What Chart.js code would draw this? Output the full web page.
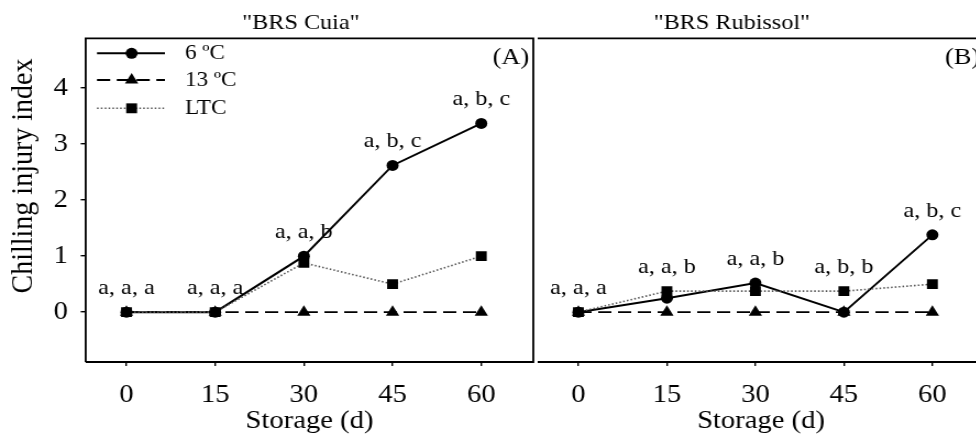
<!DOCTYPE html>
<html>
<head>
<meta charset="utf-8">
<script src="https://cdn.jsdelivr.net/npm/chart.js@4.4.0/dist/chart.umd.min.js"></script>
<style>
  html, body { margin: 0; padding: 0; background: #fff; overflow: hidden; }
  #wrap { position: relative; width: 976px; height: 443px; overflow: hidden; }
  canvas { position: absolute; top: 0; }
</style>
</head>
<body>
<div id="wrap">
  <canvas id="chartA" width="492" height="443" style="left:0px;width:541.2px;height:443px"></canvas>
  <canvas id="chartB" width="420" height="443" style="left:530px;width:462px;height:443px"></canvas>
</div>
<script>
// storage time (days) and y ticks
var days = [0, 15, 30, 45, 60];
var yTicks = [0, 1, 2, 3, 4];

// "BRS Cuia"
var cuia6 = [0, 0, 1.0, 2.62, 3.37];
var cuia13 = [0, 0, 0, 0, 0];
var cuiaLTC = [0, 0, 0.88, 0.5, 1.0];
var cuiaLetters = ['a, a, a', 'a, a, a', 'a, a, b', 'a, b, c', 'a, b, c'];

// "BRS Rubissol"
var rubi6 = [0, 0.25, 0.52, 0, 1.38];
var rubi13 = [0, 0, 0, 0, 0];
var rubiLTC = [0, 0.375, 0.375, 0.375, 0.5];
var rubiLetters = ['a, a, a', 'a, a, b', 'a, a, b', 'a, b, b', 'a, b, c'];

var SX = 1.1; // canvases are stretched a bit horizontally, like the figure
var serif = "'Liberation Serif', 'Times New Roman', serif";

function pts(vals) {
  return days.map(function (d, i) { return { x: d, y: vals[i] }; });
}

function lines(v6, v13, vLTC) {
  return [
    {
      label: '6 ºC', data: pts(v6), order: 1,
      borderColor: '#000', backgroundColor: '#000', borderWidth: 2,
      pointStyle: 'circle', pointRadius: 5.5, pointBorderWidth: 0
    },
    {
      label: '13 ºC', data: pts(v13), order: 2,
      borderColor: '#000', backgroundColor: '#000', borderWidth: 1.8, borderDash: [12, 6],
      pointStyle: 'triangle', pointRadius: 7, pointBorderWidth: 0
    },
    {
      label: 'LTC', data: pts(vLTC), order: 0,
      borderColor: '#555', backgroundColor: '#000', borderWidth: 1.6, borderDash: [1.5, 2],
      pointStyle: 'rect', pointRadius: 7, pointBorderWidth: 0
    }
  ];
}

function marker(ctx, style, x, y) {
  ctx.beginPath();
  if (style == 'circle') {
    ctx.arc(x, y, 5.5, 0, Math.PI * 2);
  } else if (style == 'triangle') {
    ctx.moveTo(x, y - 7);
    ctx.lineTo(x + 6.06, y + 3.5);
    ctx.lineTo(x - 6.06, y + 3.5);
    ctx.closePath();
  } else {
    ctx.rect(x - 4.95, y - 4.95, 9.9, 9.9);
  }
  ctx.fill();
}

function makeDecor(panel) {
  return {
    id: 'decor',
    afterDraw: function (chart) {
      var ctx = chart.ctx, a = chart.chartArea;
      var xs = chart.scales.x, ys = chart.scales.y;
      ctx.save();
      // frame; panel B shares its left edge with the right edge of panel A
      ctx.strokeStyle = '#000';
      ctx.lineWidth = 1.8;
      ctx.beginPath();
      if (panel.leftEdge) {
        ctx.moveTo(a.left, a.bottom);
        ctx.lineTo(a.left, a.top);
      } else {
        ctx.moveTo(a.left, a.top);
      }
      ctx.lineTo(a.right, a.top);
      ctx.lineTo(a.right, a.bottom);
      ctx.lineTo(a.left, a.bottom);
      ctx.stroke();
      ctx.fillStyle = '#000';

      ctx.font = '22px ' + serif;
      ctx.textAlign = 'center';
      ctx.textBaseline = 'alphabetic';
      ctx.fillText(panel.title, xs.getPixelForValue(panel.titleAt), 29);

      ctx.font = '24px ' + serif;
      ctx.textAlign = 'right';
      ctx.textBaseline = 'middle';
      ctx.fillText(panel.letter, a.right - 4 / SX, 58);

      ctx.font = '22px ' + serif;
      ctx.textAlign = 'center';
      panel.letters.forEach(function (t, i) {
        var top = Math.max(panel.v6[i], panel.v13[i], panel.vLTC[i]);
        ctx.fillText(t, xs.getPixelForValue(days[i]), ys.getPixelForValue(top) - 24);
      });

      if (panel.legend) {
        var rows = [53.3, 80, 108.3];
        chart.data.datasets.forEach(function (ds, i) {
          var y = rows[i];
          ctx.save();
          ctx.strokeStyle = ds.borderColor;
          ctx.lineWidth = ds.borderWidth;
          ctx.setLineDash(ds.borderDash || []);
          ctx.beginPath();
          ctx.moveTo(a.left + 10.3, y);
          ctx.lineTo(a.left + 72.1, y);
          ctx.stroke();
          ctx.restore();
          marker(ctx, ds.pointStyle, a.left + 41.8, y);
          ctx.font = '21px ' + serif;
          ctx.textAlign = 'left';
          ctx.textBaseline = 'middle';
          ctx.fillText(ds.label, a.left + 90.3, y);
        });

        ctx.save();
        ctx.font = '28px ' + serif;
        ctx.translate(22, 176);
        ctx.rotate(-Math.PI / 2);
        ctx.textAlign = 'center';
        ctx.textBaseline = 'middle';
        ctx.fillText('Chilling injury index', 0, 0);
        ctx.restore();
      }
      ctx.restore();
    }
  };
}

function makeChart(id, panel) {
  var config = {
    type: 'line',
    data: { datasets: lines(panel.v6, panel.v13, panel.vLTC) },
    options: {
      responsive: false,
      animation: false,
      devicePixelRatio: 1,
      layout: { padding: panel.padding },
      elements: { line: { tension: 0 } },
      plugins: {
        legend: { display: false },
        tooltip: { enabled: false },
        title: { display: false }
      },
      scales: {
        x: {
          type: 'linear',
          min: -6.9,
          max: 68.8,
          afterBuildTicks: function (s) { s.ticks = days.map(function (v) { return { value: v }; }); },
          afterFit: function (s) { s.height = 81; },
          border: { display: false },
          grid: { drawOnChartArea: false, tickLength: 4, color: '#000', lineWidth: 1.4 },
          ticks: { color: '#000', padding: 14, maxRotation: 0, font: { family: serif, size: 26 } },
          title: {
            display: true, text: 'Storage (d)', color: '#000',
            padding: { top: 0, bottom: 6 }, font: { family: serif, size: 26 }
          }
        },
        y: {
          display: panel.yAxis,
          min: -0.89,
          max: 4.89,
          afterBuildTicks: function (s) { s.ticks = yTicks.map(function (v) { return { value: v }; }); },
          afterFit: function (s) { s.width = panel.yAxis ? 77.9 : 0; },
          border: { display: false },
          grid: { drawOnChartArea: false, tickLength: 4.5, color: '#000', lineWidth: 1.4 },
          ticks: { color: '#000', padding: 11.6, font: { family: serif, size: 26 } }
        }
      }
    },
    plugins: [makeDecor(panel)]
  };
  return new Chart(document.getElementById(id), config);
}

makeChart('chartA', {
  title: '"BRS Cuia"', titleAt: 29.5, letter: '(A)', legend: true, yAxis: true, leftEdge: true,
  v6: cuia6, v13: cuia13, vLTC: cuiaLTC, letters: cuiaLetters,
  padding: { top: 38.3, left: 0, right: 0, bottom: 0 }
});

makeChart('chartB', {
  title: '"BRS Rubissol"', titleAt: 26, letter: '(B)', legend: false, yAxis: false, leftEdge: false,
  v6: rubi6, v13: rubi13, vLTC: rubiLTC, letters: rubiLetters,
  padding: { top: 38.3, left: 5.2, right: 5.7, bottom: 0 }
});
</script>
</body>
</html>
